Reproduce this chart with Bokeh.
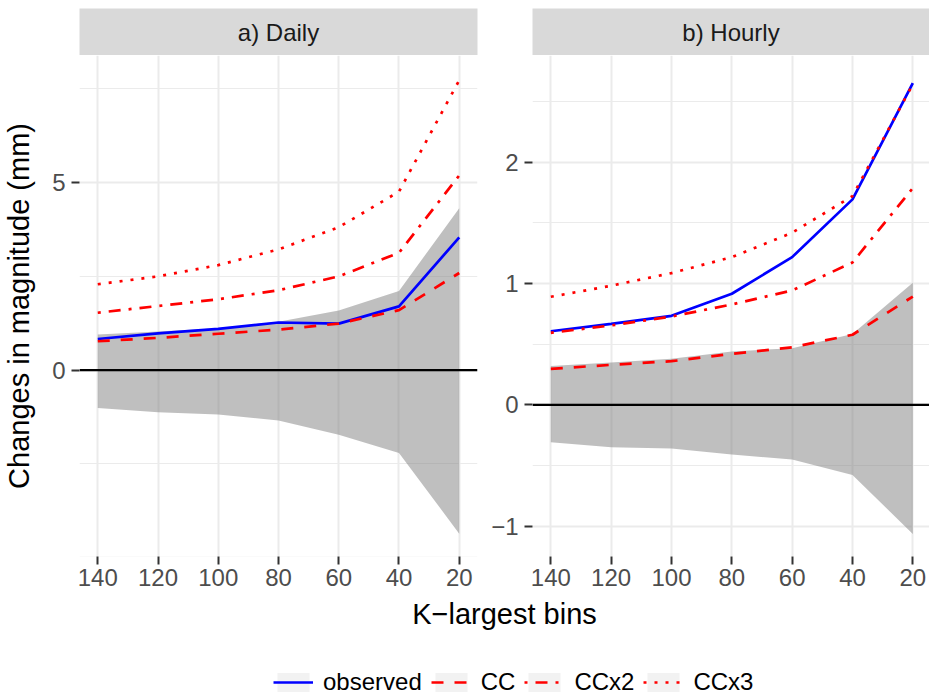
from bokeh.plotting import figure
from bokeh.models import Range1d, FixedTicker, Span, Label, Legend, LegendItem
from bokeh.layouts import column, row
from bokeh.embed import file_html
from bokeh.resources import INLINE

# ---------------- data ----------------
k_bins = [140, 120, 100, 80, 60, 40, 20]

daily_observed = [0.83, 0.98, 1.10, 1.27, 1.24, 1.70, 3.54]
daily_cc = [0.77, 0.86, 0.97, 1.08, 1.24, 1.60, 2.59]
daily_ccx2 = [1.53, 1.71, 1.89, 2.13, 2.50, 3.13, 5.19]
daily_ccx3 = [2.29, 2.50, 2.80, 3.22, 3.81, 4.76, 7.73]
daily_upper = [0.95, 1.03, 1.12, 1.29, 1.59, 2.11, 4.32]
daily_lower = [-1.01, -1.12, -1.18, -1.34, -1.72, -2.21, -4.36]

hourly_observed = [0.607, 0.668, 0.734, 0.916, 1.218, 1.694, 2.653]
hourly_cc = [0.297, 0.33, 0.36, 0.42, 0.475, 0.578, 0.893]
hourly_ccx2 = [0.594, 0.655, 0.728, 0.828, 0.943, 1.174, 1.787]
hourly_ccx3 = [0.891, 0.982, 1.086, 1.218, 1.419, 1.721, 2.643]
hourly_upper = [0.32, 0.35, 0.38, 0.44, 0.467, 0.585, 1.006]
hourly_lower = [-0.308, -0.35, -0.36, -0.41, -0.45, -0.578, -1.064]

panel_titles = ["a) Daily", "b) Hourly"]
series_labels = ["observed", "CC", "CCx2", "CCx3"]
x_title = "K\u2212largest bins"
y_title = "Changes in magnitude (mm)"

daily_y_ticks = [-5, 0, 5]
daily_y_minor = [-2.5, 2.5, 7.5]
hourly_y_ticks = [-1, 0, 1, 2]
hourly_y_minor = [-0.5, 0.5, 1.5, 2.5]

# ---------------- styles ----------------
FONT = "Liberation Sans"
STRIP_TOP = 8
STRIP_H = 47
PANEL_H = 541
BOTTOM_B = 40
LINE_W = 2.7
line_styles = [
    dict(line_color="#0000ff", line_dash="solid"),
    dict(line_color="#ff0000", line_dash="12 11"),
    dict(line_color="#ff0000", line_dash="3 8 12 8"),
    dict(line_color="#ff0000", line_dash="3 8"),
]


def make_strip(text, width, bl, br):
    s = figure(width=width, height=STRIP_H + STRIP_TOP, x_range=Range1d(0, 1), y_range=Range1d(0, 1),
               x_axis_type=None, y_axis_type=None, toolbar_location=None,
               output_backend="svg", min_border_left=bl, min_border_right=br,
               min_border_top=STRIP_TOP, min_border_bottom=0)
    s.grid.visible = False
    s.outline_line_color = None
    s.background_fill_color = "#d9d9d9"
    s.border_fill_color = "white"
    s.add_layout(Label(x=0.5, y=0.5, text=text, text_align="center", text_baseline="middle",
                       text_font_size="24px", text_font=FONT, text_color="#1a1a1a"))
    return s


def make_panel(width, bl, br, xr, yr, yticks, yminor, series, upper, lower, overrides=None):
    p = figure(width=width, height=PANEL_H, x_range=Range1d(*xr), y_range=Range1d(*yr),
               toolbar_location=None, output_backend="svg",
               min_border_left=bl, min_border_right=br, min_border_top=0,
               min_border_bottom=BOTTOM_B)
    p.outline_line_color = None
    p.background_fill_color = "white"
    p.border_fill_color = "white"

    p.xaxis.ticker = FixedTicker(ticks=k_bins)
    p.yaxis.ticker = FixedTicker(ticks=yticks, minor_ticks=yminor)
    for ax in (p.xaxis, p.yaxis):
        ax.axis_line_color = None
        ax.major_tick_line_color = "#333333"
        ax.major_tick_line_width = 2
        ax.major_tick_in = 0
        ax.major_tick_out = 8
        ax.minor_tick_line_color = None
        ax.major_label_text_font = FONT
        ax.major_label_text_font_size = "24px"
        ax.major_label_text_color = "#4d4d4d"
    p.xaxis.major_label_standoff = 4
    p.yaxis.major_label_standoff = 6
    if overrides:
        p.yaxis.major_label_overrides = overrides

    p.xgrid.grid_line_color = "#ebebeb"
    p.xgrid.grid_line_width = 2
    p.ygrid.grid_line_color = "#ebebeb"
    p.ygrid.grid_line_width = 2
    p.ygrid.minor_grid_line_color = "#ebebeb"
    p.ygrid.minor_grid_line_width = 1

    p.varea(x=k_bins, y1=lower, y2=upper, fill_color="#7f7f7f", fill_alpha=0.5)
    p.add_layout(Span(location=0, dimension="width", line_color="black", line_width=2.3))
    for ys, st in zip(series, line_styles):
        p.line(x=k_bins, y=ys, line_width=LINE_W, **st)
    return p


# left panel: x 0..480, frame 78..477
LW, LBL, LBR = 480, 78, 3
# right panel: x 480..929, frame 532..929
RW, RBL, RBR = 449, 52, 0

p_l = make_panel(LW, LBL, LBR, (146.06, 13.94), (-4.97, 8.39), daily_y_ticks, daily_y_minor,
                 [daily_observed, daily_cc, daily_ccx2, daily_ccx3], daily_upper, daily_lower)
p_l.yaxis.axis_label = y_title
p_l.yaxis.axis_label_text_font = FONT
p_l.yaxis.axis_label_text_font_size = "29px"
p_l.yaxis.axis_label_text_font_style = "normal"
p_l.yaxis.axis_label_text_color = "black"
p_l.yaxis.axis_label_standoff = 14

p_r = make_panel(RW, RBL, RBR, (146.07, 14.47), (-1.25, 2.88), hourly_y_ticks, hourly_y_minor,
                 [hourly_observed, hourly_cc, hourly_ccx2, hourly_ccx3], hourly_upper, hourly_lower,
                 overrides={-1: "\u22121"})

s_l = make_strip(panel_titles[0], LW, LBL, LBR)
s_r = make_strip(panel_titles[1], RW, RBL, RBR)

# bottom area: shared x title + legend
TOTAL_W = LW + RW
BOT_H = 100
b = figure(width=TOTAL_W, height=BOT_H, x_range=Range1d(0, TOTAL_W), y_range=Range1d(0, BOT_H),
           x_axis_type=None, y_axis_type=None, toolbar_location=None, output_backend="svg",
           min_border_left=0, min_border_right=0, min_border_top=0, min_border_bottom=0)
b.grid.visible = False
b.outline_line_color = None
b.add_layout(Label(x=504, y=83, text=x_title, text_align="center", text_baseline="alphabetic",
                   text_font_size="29px", text_font=FONT, text_color="black"))

# legend-only renderers (kept outside the visible range of this strip)
key_bg = b.quad(left=[-20], right=[-10], top=[-10], bottom=[-20], fill_color="#f2f2f2", line_color=None)
items = []
for lab, st in zip(series_labels, line_styles):
    r = b.line(x=[-20, -10], y=[-20, -20], line_width=LINE_W, **st)
    items.append(LegendItem(label=lab, renderers=[key_bg, r]))
legend = Legend(items=items, orientation="horizontal", location=(273, 0),
                glyph_width=40, glyph_height=24, label_height=24, label_standoff=10, spacing=9,
                padding=0, margin=0, border_line_color=None, background_fill_alpha=0,
                label_text_font=FONT, label_text_font_size="24px", label_text_color="black")
b.add_layout(legend)

layout = column(row(column(s_l, p_l), column(s_r, p_r)), b)

open("out.html", "w").write(file_html(layout, INLINE))
